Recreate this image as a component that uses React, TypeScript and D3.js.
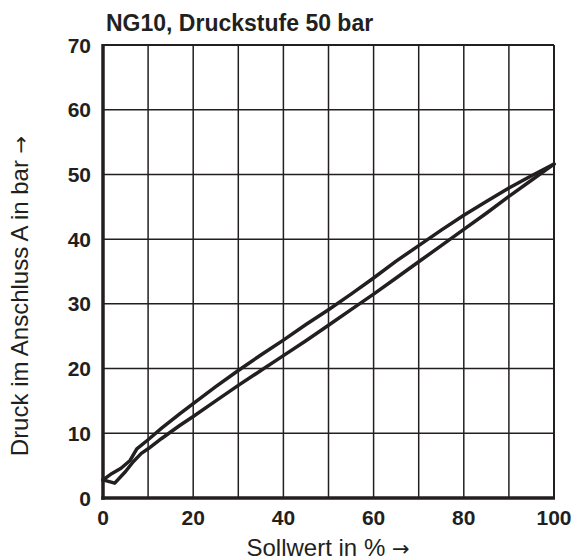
import React from "react";
import * as d3 from "d3";

const upperX = [0, 2, 4, 6, 7.5, 10, 13, 17, 20, 25, 30, 35, 40, 45, 50, 55, 60, 65, 70, 75, 80, 85, 90, 95, 100];
const upperY = [2.8, 3.8, 4.6, 5.8, 7.6, 9.0, 10.8, 13.0, 14.6, 17.2, 19.7, 22.1, 24.4, 26.8, 29.1, 31.5, 34.0, 36.6, 39.0, 41.4, 43.7, 45.8, 47.9, 49.8, 51.6];
const lowerX = [0, 2.6, 5, 6.7, 8.5, 10, 13, 17, 20, 25, 30, 35, 40, 45, 50, 55, 60, 65, 70, 75, 80, 85, 90, 95, 100];
const lowerY = [2.8, 2.3, 4.1, 5.6, 6.9, 7.6, 9.2, 11.2, 12.6, 15.0, 17.4, 19.7, 22.0, 24.3, 26.7, 29.1, 31.5, 34.0, 36.5, 39.0, 41.5, 44.0, 46.6, 49.1, 51.6];
const xTicks = [0, 20, 40, 60, 80, 100];
const yTicks = [0, 10, 20, 30, 40, 50, 60, 70];
const xGrid = [10, 20, 30, 40, 50, 60, 70, 80, 90];
const yGrid = [10, 20, 30, 40, 50, 60];
const title = "NG10, Druckstufe 50 bar";
const xLabel = "Sollwert in % ";
const yLabel = "Druck im Anschluss A in bar ";
const arrow = "→";

export default function App() {
  const W = 574, H = 560;
  const x = d3.scaleLinear().domain([0, 100]).range([103, 554]);
  const y = d3.scaleLinear().domain([0, 70]).range([498, 45]);
  const line = d3.line<[number, number]>().x(d => x(d[0])).y(d => y(d[1]));
  const up: [number, number][] = upperX.map((v, i) => [v, upperY[i]]);
  const lo: [number, number][] = lowerX.map((v, i) => [v, lowerY[i]]);
  const font = "'Liberation Sans', Arial, sans-serif";
  const arrowFont = "'DejaVu Sans', sans-serif";
  const ink = "#231f20";
  return (
    <svg width={W} height={H} style={{ position: "absolute", left: 0, top: 0, background: "#fff" }}>
      <rect x={0} y={0} width={W} height={H} fill="#fff" />
      {xGrid.map(v => (
        <line key={"xg" + v} x1={x(v)} x2={x(v)} y1={y(70)} y2={y(0)} stroke={ink} strokeWidth={1.5} />
      ))}
      {yGrid.map(v => (
        <line key={"yg" + v} x1={x(0)} x2={x(100)} y1={y(v)} y2={y(v)} stroke={ink} strokeWidth={1.5} />
      ))}
      <line x1={x(0)} x2={x(100)} y1={y(70)} y2={y(70)} stroke={ink} strokeWidth={2} />
      <line x1={x(100)} x2={x(100)} y1={y(70)} y2={y(0)} stroke={ink} strokeWidth={2} />
      <path d={line(up) || ""} fill="none" stroke={ink} strokeWidth={3.5} strokeLinejoin="round" strokeLinecap="round" />
      <path d={line(lo) || ""} fill="none" stroke={ink} strokeWidth={3.5} strokeLinejoin="round" strokeLinecap="round" />
      <line x1={x(0)} x2={x(0)} y1={y(70) - 1} y2={y(0) + 1.75} stroke={ink} strokeWidth={3.5} />
      <line x1={x(0) - 1.75} x2={x(100) + 1} y1={y(0)} y2={y(0)} stroke={ink} strokeWidth={3.5} />
      {xTicks.map(v => (
        <text key={"xt" + v} x={x(v)} y={525} textAnchor="middle" fontFamily={font} fontWeight="bold" fontSize={21} fill={ink}>{v}</text>
      ))}
      {yTicks.map(v => (
        <text key={"yt" + v} x={91} y={y(v)} dy="0.36em" textAnchor="end" fontFamily={font} fontWeight="bold" fontSize={21} fill={ink}>{v}</text>
      ))}
      <text x={106} y={31} fontFamily={font} fontWeight="bold" fontSize={23} fill={ink}>{title}</text>
      <text x={328} y={556} textAnchor="middle" fontFamily={font} fontSize={24} fill={ink}>
        {xLabel}<tspan fontFamily={arrowFont} fontSize={21}>{arrow}</tspan>
      </text>
      <text transform="translate(28,296) rotate(-90)" textAnchor="middle" fontFamily={font} fontSize={24} fill={ink}>
        {yLabel}<tspan fontFamily={arrowFont} fontSize={21}>{arrow}</tspan>
      </text>
    </svg>
  );
}
